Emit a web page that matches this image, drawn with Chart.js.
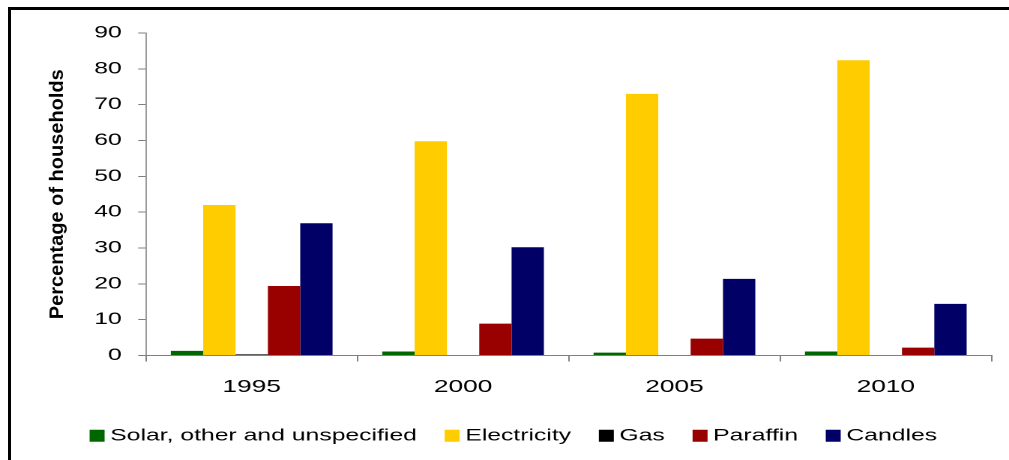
<!DOCTYPE html>
<html>
<head>
<meta charset="utf-8">
<script src="https://cdn.jsdelivr.net/npm/chart.js@4/dist/chart.umd.min.js"></script>
<style>
  html, body { margin: 0; padding: 0; background: #fff; overflow: hidden; }
  body { width: 1009px; height: 460px; position: relative; }
  #frame {
    position: absolute; left: 8px; top: 7px; right: 0; bottom: 0;
    border-top: 3px solid #000; border-left: 3px solid #000;
  }
  /* the chart is laid out narrow and widened horizontally, giving the broad lettering */
  #wrap {
    position: absolute; left: 0; top: 0; width: 673px; height: 460px;
    transform: scaleX(1.4993); transform-origin: 0 0;
  }
</style>
</head>
<body>
<div id="frame"></div>
<div id="wrap"><canvas id="chart"></canvas></div>
<script>
const STRETCH = 1009 / 673;

const years = ['1995', '2000', '2005', '2010'];
const solarOther = [1.3, 1.1, 0.8, 1.1];
const electricity = [42, 59.8, 73, 82.4];
const gas = [0.3, 0, 0, 0];
const paraffin = [19.4, 8.9, 4.7, 2.2];
const candles = [36.9, 30.2, 21.4, 14.4];

const seriesNames = ['Solar, other and unspecified', 'Electricity', 'Gas', 'Paraffin', 'Candles'];
const seriesColors = ['#006600', '#FFCC00', '#000000', '#990000', '#000066'];
const seriesValues = [solarOther, electricity, gas, paraffin, candles];

const yAxisTitle = 'Percentage of households';

// Rotated axis caption, drawn at natural proportions (undoing the horizontal widening)
const yTitlePlugin = {
  id: 'yTitle',
  afterDraw(chart, args, opts) {
    const { ctx, chartArea } = chart;
    ctx.save();
    ctx.scale(1 / STRETCH, 1);
    ctx.translate(opts.x, (chartArea.top + chartArea.bottom) / 2);
    ctx.rotate(-Math.PI / 2);
    ctx.font = 'bold 20px "Liberation Sans", Arial, sans-serif';
    ctx.fillStyle = '#000';
    ctx.textAlign = 'center';
    ctx.textBaseline = 'alphabetic';
    ctx.fillText(opts.text, 0, 0);
    ctx.restore();
  }
};

Chart.defaults.font.family = '"Liberation Sans", Arial, sans-serif';
Chart.defaults.color = '#000';

const LEFT_PAD = 28;

new Chart(document.getElementById('chart'), {
  type: 'bar',
  data: {
    labels: years,
    datasets: seriesNames.map((name, i) => ({
      label: name,
      data: seriesValues[i],
      backgroundColor: seriesColors[i],
      borderWidth: 0,
      barPercentage: 1.0,
      categoryPercentage: 0.765
    }))
  },
  options: {
    responsive: true,
    maintainAspectRatio: false,
    animation: false,
    devicePixelRatio: 2,
    layout: { padding: { top: 33, right: 11.7, bottom: 6, left: LEFT_PAD } },
    plugins: {
      tooltip: { enabled: false },
      yTitle: { text: yAxisTitle, x: 63 },
      legend: {
        position: 'bottom',
        labels: {
          font: { size: 16.5 },
          // thin swatch with a wide outline of the same colour: a small square close to its text
          boxWidth: 1,
          boxHeight: 3,
          padding: 23,
          color: '#000',
          generateLabels(chart) {
            return chart.data.datasets.map((ds, i) => ({
              text: ds.label,
              fillStyle: ds.backgroundColor,
              strokeStyle: ds.backgroundColor,
              lineWidth: 9,
              lineJoin: 'miter',
              hidden: !chart.isDatasetVisible(i),
              datasetIndex: i
            }));
          }
        }
      }
    },
    scales: {
      x: {
        offset: true,
        afterFit(scale) { scale.height -= 8; },
        grid: {
          display: true,
          offset: true,
          drawOnChartArea: false,
          drawTicks: true,
          tickLength: 6,
          color: '#808080'
        },
        border: { display: true, color: '#808080', width: 1 },
        ticks: { font: { size: 17.5 }, padding: 15, color: '#000' }
      },
      y: {
        min: 0,
        max: 90,
        afterFit(scale) { scale.width = 146 / STRETCH - LEFT_PAD; },
        grid: {
          display: true,
          drawOnChartArea: false,
          drawTicks: true,
          tickLength: 5.2,
          color: '#808080'
        },
        border: { display: true, color: '#808080', width: 0.8 },
        ticks: { stepSize: 10, font: { size: 16.5 }, padding: 11, color: '#000' }
      }
    }
  },
  plugins: [yTitlePlugin]
});
</script>
</body>
</html>
